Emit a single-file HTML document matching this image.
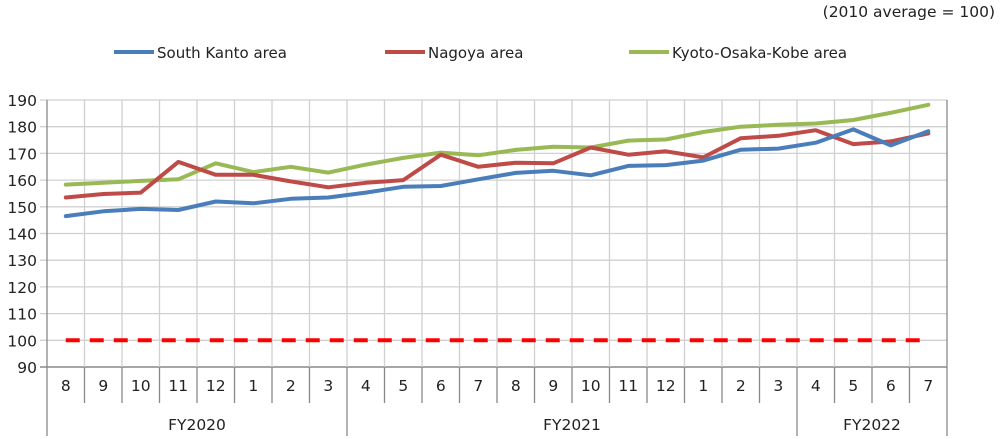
<!DOCTYPE html>
<html><head><meta charset="utf-8">
<style>
html,body{margin:0;padding:0;background:#fff;}
svg{display:block;font-family:"DejaVu Sans","Liberation Sans",sans-serif;}
</style></head>
<body>
<svg id="c" width="1000" height="439" viewBox="0 0 1000 439" xmlns="http://www.w3.org/2000/svg">
<text x="995" y="17" font-size="15.5" text-anchor="end" fill="#222">(2010 average = 100)</text>
<line x1="114" y1="52" x2="154" y2="52" stroke="#4a7ebb" stroke-width="4"/>
<text x="157" y="58" font-size="15" fill="#222">South Kanto area</text>
<line x1="385" y1="52" x2="425" y2="52" stroke="#be4b48" stroke-width="4"/>
<text x="428" y="58" font-size="15" fill="#222">Nagoya area</text>
<line x1="629" y1="52" x2="669" y2="52" stroke="#98b954" stroke-width="4"/>
<text x="672" y="58" font-size="15" fill="#222">Kyoto-Osaka-Kobe area</text>
<g id="g"></g>
</svg>
<script>
var L=47,R=947,T=100,B=367,n=24,w=(R-L)/n;
function Y(v){return T+(190-v)*(B-T)/100;}
var s='';
for(var v=90;v<=190;v+=10){var y=Y(v);s+='<line x1="40" y1="'+y+'" x2="'+R+'" y2="'+y+'" stroke="'+(v==90?'#888':'#d0d0d0')+'" stroke-width="'+(v==90?1.5:1.3)+'"/>';s+='<text x="37" y="'+(y+6)+'" font-size="15.5" text-anchor="end" fill="#222">'+v+'</text>';}
for(var i=0;i<=n;i++){var x=L+i*w;s+='<line x1="'+x+'" y1="'+T+'" x2="'+x+'" y2="'+B+'" stroke="'+((i==0||i==n)?'#888':'#d0d0d0')+'" stroke-width="1.3"/>';
var big=(i==0||i==8||i==20||i==24);s+='<line x1="'+x+'" y1="'+B+'" x2="'+x+'" y2="'+(big?436:403)+'" stroke="#888" stroke-width="1.3"/>';}
var m=[8,9,10,11,12,1,2,3,4,5,6,7,8,9,10,11,12,1,2,3,4,5,6,7];
for(var i=0;i<n;i++)s+='<text x="'+(L+(i+.5)*w)+'" y="391" font-size="15.5" text-anchor="middle" fill="#222">'+m[i]+'</text>';
s+='<text x="'+(L+4*w)+'" y="430" font-size="15.5" text-anchor="middle" fill="#222">FY2020</text>';
s+='<text x="'+(L+14*w)+'" y="430" font-size="15.5" text-anchor="middle" fill="#222">FY2021</text>';
s+='<text x="'+(L+22*w)+'" y="430" font-size="15.5" text-anchor="middle" fill="#222">FY2022</text>';
s+='<line x1="'+(L+.5*w)+'" y1="'+Y(100)+'" x2="'+(L+23.3*w)+'" y2="'+Y(100)+'" stroke="#ff0000" stroke-width="4" stroke-dasharray="14,10"/>';
var d=[
['#98b954',[158.3,159,159.7,160.3,166.3,163,165,162.8,165.8,168.3,170.3,169.3,171.3,172.5,172.2,174.8,175.2,178,180,180.7,181.2,182.5,185.2,188.2]],
['#be4b48',[153.5,154.8,155.3,166.8,162,162,159.5,157.3,159,160,169.5,165,166.5,166.3,172.2,169.5,170.8,168.5,175.7,176.6,178.7,173.5,174.5,177.5]],
['#4a7ebb',[146.5,148.3,149.2,148.8,152,151.3,153,153.5,155.3,157.5,157.8,160.3,162.7,163.5,161.8,165.3,165.6,167.3,171.4,171.8,174,179,173,178.3]]];
d.forEach(function(a){var p=a[1].map(function(v,i){return (L+(i+.5)*w).toFixed(1)+','+Y(v).toFixed(1);}).join(' ');
s+='<polyline points="'+p+'" fill="none" stroke="'+a[0]+'" stroke-width="4" stroke-linejoin="round" stroke-linecap="round"/>';});
document.getElementById('g').innerHTML=s;
</script>
</body></html>
